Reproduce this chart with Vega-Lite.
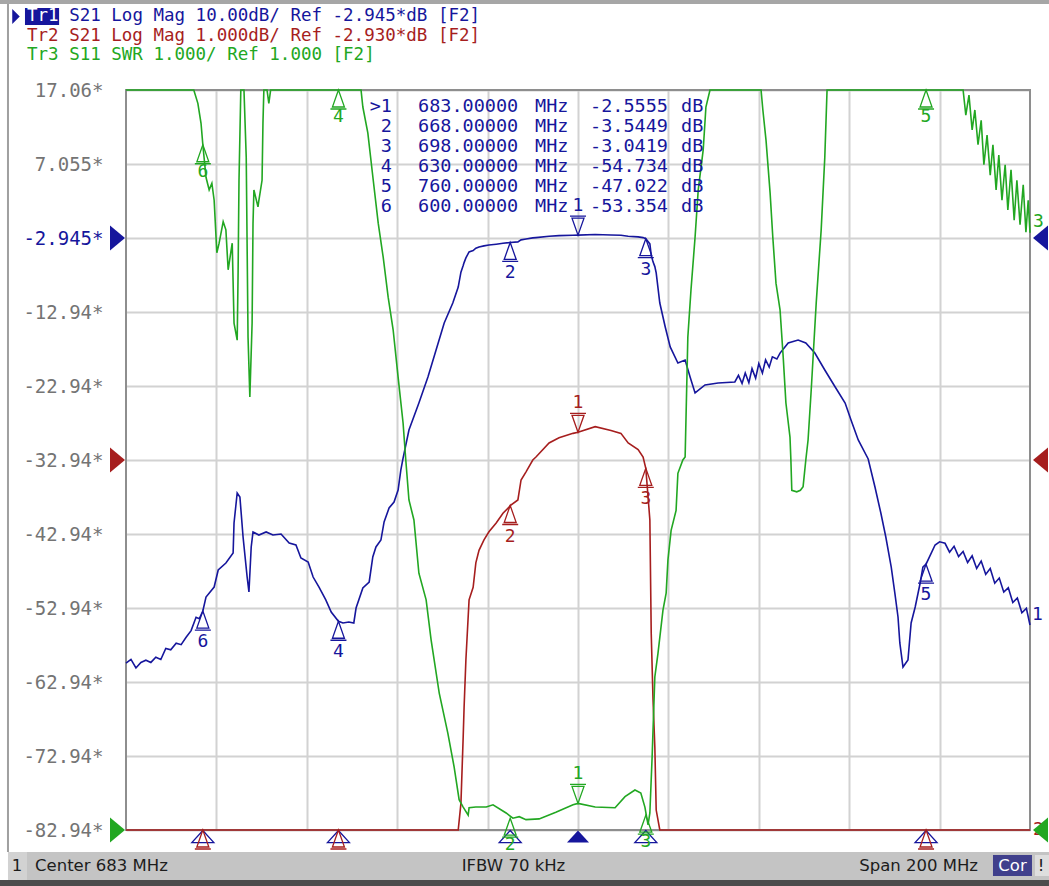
{
"$schema": "https://vega.github.io/schema/vega-lite/v6.json",
"width": 904, "height": 740,
"autosize": "none",
"padding": {"left": 126, "top": 90, "right": 19, "bottom": 56},
"background": "white",
"config": {"view": {"stroke": null}, "locale": {"number": {"decimal": ".", "thousands": ",", "grouping": [3], "currency": ["", ""], "minus": "-"}}},
"datasets": {
"s21": [
{"f":583.0,"db":-60.4},{"f":584.1,"db":-59.9},{"f":585.2,"db":-61.05},{"f":586.3,"db":-60.3},{"f":587.4,"db":-60.0},{"f":588.5,"db":-60.3},{"f":589.6,"db":-59.6},{"f":590.7,"db":-59.9},{"f":591.8,"db":-58.4},{"f":592.9,"db":-58.6},{"f":594.1,"db":-57.7},{"f":595.2,"db":-57.9},{"f":596.3,"db":-56.9},{"f":597.4,"db":-56.0},{"f":598.5,"db":-54.2},{"f":599.2,"db":-54.4},{"f":600.0,"db":-53.354},
{"f":600.7,"db":-51.46},{"f":602.5,"db":-50.11},{"f":603.4,"db":-47.81},{"f":605.1,"db":-46.86},{"f":606.7,"db":-45.51},{"f":606.9,"db":-41.46},{"f":607.6,"db":-37.40},{"f":608.2,"db":-37.94},{"f":608.9,"db":-43.35},{"f":609.8,"db":-48.76},{"f":610.2,"db":-50.78},{"f":610.7,"db":-44.70},{"f":611.1,"db":-42.67},{"f":612.4,"db":-43.08},{"f":614.0,"db":-42.67},{"f":615.5,"db":-43.08},{"f":617.3,"db":-42.95},{"f":619.1,"db":-44.16},{"f":620.6,"db":-44.43},{"f":621.7,"db":-46.19},{"f":623.3,"db":-46.73},{"f":624.4,"db":-48.76},{"f":625.7,"db":-50.11},{"f":627.2,"db":-51.86},{"f":628.4,"db":-53.49},{"f":630.0,"db":-54.734},{"f":631.0,"db":-54.97},{"f":632.3,"db":-54.84},{"f":633.4,"db":-54.97},{"f":633.9,"db":-52.95},{"f":635.4,"db":-50.24},{"f":636.8,"db":-49.43},{"f":637.6,"db":-46.05},{"f":638.3,"db":-44.70},{"f":639.4,"db":-43.76},{"f":640.1,"db":-41.32},{"f":641.2,"db":-39.43},{"f":642.3,"db":-38.62},{"f":643.2,"db":-37.00},{"f":643.8,"db":-34.30},{"f":644.3,"db":-32.68},{"f":645.6,"db":-28.89},{"f":647.8,"db":-25.24},{"f":649.8,"db":-21.73},{"f":651.6,"db":-18.08},{"f":653.4,"db":-14.43},{"f":655.3,"db":-11.73},{"f":656.5,"db":-9.57},
{"f":657.1,"db":-7.57},{"f":657.6,"db":-6.67},{"f":657.8,"db":-6.27},{"f":658.2,"db":-5.63},{"f":658.9,"db":-4.82},{"f":659.8,"db":-4.65},{"f":660.4,"db":-4.32},{"f":661.1,"db":-4.15},{"f":662.2,"db":-4.01},{"f":663.3,"db":-3.90},{"f":664.9,"db":-3.78},{"f":666.4,"db":-3.65},{"f":667.7,"db":-3.57},{"f":668.0,"db":-3.5449},{"f":669.7,"db":-3.47},{"f":670.4,"db":-3.20},{"f":671.5,"db":-3.09},{"f":673.0,"db":-2.93},{"f":673.7,"db":-2.89},{"f":676.6,"db":-2.70},{"f":678.8,"db":-2.63},{"f":681.9,"db":-2.57},{"f":683.0,"db":-2.5555},{"f":686.8,"db":-2.48},{"f":690.3,"db":-2.53},{"f":692.5,"db":-2.57},{"f":694.1,"db":-2.70},{"f":696.3,"db":-2.79},{"f":697.4,"db":-2.89},{"f":698.0,"db":-3.0419},{"f":698.9,"db":-3.74},{"f":699.2,"db":-5.27},{"f":699.6,"db":-6.17},{"f":700.0,"db":-6.81},{"f":700.3,"db":-7.66},
{"f":701.1,"db":-11.73},{"f":702.3,"db":-14.97},{"f":703.4,"db":-17.67},{"f":705.1,"db":-19.84},{"f":706.7,"db":-19.43},{"f":707.8,"db":-21.73},{"f":708.9,"db":-23.89},{"f":711.1,"db":-22.81},{"f":714.0,"db":-22.54},{"f":717.7,"db":-22.40},{"f":718.5,"db":-21.5},{"f":719.3,"db":-22.6},{"f":720.0,"db":-21.2},{"f":720.8,"db":-22.5},{"f":721.5,"db":-20.6},{"f":722.3,"db":-21.9},{"f":723.0,"db":-19.9},{"f":723.8,"db":-21.2},{"f":724.5,"db":-19.4},{"f":725.3,"db":-20.4},{"f":726.0,"db":-19.0},{"f":727.0,"db":-19.3},{"f":727.7,"db":-18.5},{"f":729.5,"db":-17.14},{"f":731.7,"db":-16.73},{"f":733.4,"db":-17.14},{"f":735.4,"db":-18.49},{"f":737.6,"db":-20.78},{"f":739.9,"db":-23.08},{"f":742.1,"db":-25.24},{"f":743.4,"db":-27.54},{"f":745.0,"db":-30.24},{"f":747.2,"db":-32.81},{"f":748.7,"db":-36.59},{"f":750.0,"db":-40.11},{"f":751.1,"db":-43.35},{"f":752.3,"db":-47.41},{"f":753.1,"db":-50.92},{"f":753.8,"db":-54.16},{"f":754.2,"db":-57.67},{"f":754.9,"db":-60.92},{"f":756.0,"db":-59.97},{"f":756.7,"db":-54.97},{"f":757.6,"db":-52.81},{"f":758.7,"db":-49.57},{"f":759.3,"db":-47.41},{"f":760.0,"db":-47.022},{"f":762.0,"db":-44.43},{"f":763.0,"db":-44.0},{"f":764.2,"db":-44.2},{"f":765.2,"db":-45.4},{"f":766.2,"db":-44.6},{"f":767.2,"db":-46.0},{"f":768.2,"db":-45.3},{"f":769.2,"db":-46.8},{"f":770.2,"db":-45.9},{"f":771.2,"db":-47.6},{"f":772.2,"db":-46.6},{"f":773.2,"db":-48.4},{"f":774.2,"db":-47.6},{"f":775.2,"db":-49.6},{"f":776.2,"db":-48.9},{"f":777.2,"db":-50.8},{"f":778.2,"db":-50.2},{"f":779.2,"db":-52.2},{"f":780.2,"db":-51.6},{"f":781.2,"db":-53.6},{"f":782.2,"db":-53.0},{"f":783.0,"db":-55.24}
],
"swr": [
{"f":583.0,"swr":11},{"f":598.0,"swr":11},{"f":598.9,"swr":10.82},{"f":599.6,"swr":10.55},{"f":600.0,"swr":10.26},{"f":600.7,"swr":9.82},{"f":601.4,"swr":9.65},{"f":602.0,"swr":9.74},{"f":602.5,"swr":9.51},{"f":603.1,"swr":8.80},{"f":603.6,"swr":8.93},{"f":604.5,"swr":9.22},{"f":605.1,"swr":9.11},{"f":605.6,"swr":8.57},{"f":606.5,"swr":8.93},{"f":606.9,"swr":7.85},{"f":607.6,"swr":7.62},{"f":607.8,"swr":8.53},{"f":608.0,"swr":9.78},{"f":608.4,"swr":11},{"f":609.1,"swr":11},{"f":609.6,"swr":10.09},{"f":610.0,"swr":7.66},{"f":610.4,"swr":6.85},{"f":610.9,"swr":7.85},{"f":611.1,"swr":9.20},{"f":611.3,"swr":9.65},{"f":612.2,"swr":9.42},{"f":612.4,"swr":9.51},{"f":613.1,"swr":9.78},{"f":613.3,"swr":10.55},{"f":613.5,"swr":11},{"f":614.2,"swr":11},{"f":614.6,"swr":10.82},{"f":615.0,"swr":11},{"f":635.0,"swr":11},{"f":635.4,"swr":10.77},{"f":636.5,"swr":10.42},{"f":637.7,"swr":9.78},{"f":638.8,"swr":9.20},{"f":639.9,"swr":8.74},{"f":641.0,"swr":8.20},{"f":642.1,"swr":7.76},{"f":643.2,"swr":7.12},{"f":644.3,"swr":6.50},{"f":644.9,"swr":6.00},{"f":645.6,"swr":5.46},{"f":646.7,"swr":5.19},{"f":647.8,"swr":4.47},{"f":649.4,"swr":4.11},{"f":650.5,"swr":3.57},{"f":652.3,"swr":2.85},{"f":654.2,"swr":2.31},{"f":655.6,"swr":1.85},{"f":656.7,"swr":1.41},{"f":657.6,"swr":1.31},{"f":658.7,"swr":1.20},{"f":658.9,"swr":1.30},{"f":660.4,"swr":1.31},{"f":662.7,"swr":1.31},{"f":664.2,"swr":1.34},{"f":667.1,"swr":1.23},{"f":668.6,"swr":1.16},{"f":670.0,"swr":1.18},{"f":671.5,"swr":1.14},{"f":674.4,"swr":1.15},{"f":678.1,"swr":1.24},{"f":681.9,"swr":1.34},{"f":683.0,"swr":1.36},{"f":686.8,"swr":1.31},{"f":691.2,"swr":1.30},{"f":693.4,"swr":1.45},{"f":695.6,"swr":1.54},{"f":696.9,"swr":1.50},{"f":697.8,"swr":1.31},{"f":698.5,"swr":1.07},{"f":698.9,"swr":1.23},{"f":699.4,"swr":1.99},{"f":700.0,"swr":3.07},{"f":700.7,"swr":3.39},{"f":701.8,"swr":3.97},{"f":702.5,"swr":4.20},{"f":702.9,"swr":4.65},{"f":703.6,"swr":5.05},{"f":704.7,"swr":5.32},{"f":705.1,"swr":5.82},{"f":706.2,"swr":6.00},{"f":706.7,"swr":6.04},{"f":707.3,"swr":7.66},{"f":708.0,"swr":8.30},{"f":708.9,"swr":9.01},{"f":709.6,"swr":9.65},{"f":710.7,"swr":10.19},{"f":711.3,"swr":10.77},{"f":712.2,"swr":11},{"f":723.5,"swr":11},{"f":723.9,"swr":10.73},{"f":724.6,"swr":10.32},{"f":725.5,"swr":9.61},{"f":726.1,"swr":9.01},{"f":726.8,"swr":8.39},{"f":727.7,"swr":8.03},{"f":728.4,"swr":7.39},{"f":729.0,"swr":6.77},{"f":729.9,"swr":6.31},{"f":730.1,"swr":6.00},{"f":730.3,"swr":5.59},{"f":731.4,"swr":5.57},{"f":732.2,"swr":5.59},{"f":732.8,"swr":5.64},{"f":733.4,"swr":6.00},{"f":733.9,"swr":6.27},{"f":734.6,"swr":6.95},{"f":735.7,"swr":8.12},{"f":736.8,"swr":9.11},{"f":737.6,"swr":10.09},{"f":738.1,"swr":11},{"f":767.7,"swr":11},{"f":768.2,"swr":11},{"f":768.8,"swr":10.66},{"f":769.5,"swr":10.93},{"f":770.2,"swr":10.46},{"f":770.8,"swr":10.73},{"f":771.5,"swr":10.26},{"f":772.2,"swr":10.59},{"f":772.8,"swr":9.99},{"f":773.5,"swr":10.39},{"f":774.2,"swr":9.85},{"f":774.8,"swr":10.26},{"f":775.5,"swr":9.65},{"f":776.1,"swr":10.12},{"f":776.8,"swr":9.51},{"f":777.5,"swr":9.99},{"f":778.1,"swr":9.38},{"f":778.8,"swr":9.92},{"f":779.5,"swr":9.24},{"f":780.1,"swr":9.78},{"f":780.8,"swr":9.18},{"f":781.5,"swr":9.72},{"f":782.1,"swr":9.08},{"f":782.6,"swr":9.51},{"f":783.0,"swr":9.07}
],
"mk": [{"m":1,"f":683,"db":-2.5555},{"m":2,"f":668,"db":-3.5449},{"m":3,"f":698,"db":-3.0419},{"m":4,"f":630,"db":-54.734},{"m":5,"f":760,"db":-47.022},{"m":6,"f":600,"db":-53.354}],
"mk3": [{"m":1,"f":683,"swr":1.36},{"m":2,"f":668,"swr":1.16},{"m":3,"f":698,"swr":1.2},{"m":4,"f":630,"swr":11},{"m":5,"f":760,"swr":11},{"m":6,"f":600,"swr":10.26}]
},
"resolve": {"scale": {"y": "independent"}, "axis": {"x": "independent"}},
"layer": [
{"data": {"name": "mk"}, "mark": {"type": "point", "opacity": 0},
 "encoding": {
  "x": {"field": "f", "type": "quantitative", "scale": {"domain": [583, 783], "nice": false, "zero": false}, "axis": {"values": [603, 623, 643, 663, 683, 703, 723, 743, 763], "grid": true, "gridColor": "#d2d2d2", "gridWidth": 2, "labels": false, "ticks": false, "domain": false, "title": null}},
  "y": {"field": "db", "type": "quantitative", "scale": {"domain": [-82.945, 17.055], "nice": false, "zero": false}, "axis": {"values": [17.055, 7.055, -2.945, -12.945, -22.945, -32.945, -42.945, -52.945, -62.945, -72.945, -82.945], "grid": true, "gridColor": "#d2d2d2", "gridWidth": 2, "ticks": false, "domain": false, "title": null, "labelPadding": 23, "labelFont": "DejaVu Sans Mono", "labelFontSize": 19, "labelColor": {"condition": {"test": "abs(datum.value + 2.945) < 0.01", "value": "#16169c"}, "value": "#747474"}, "labelExpr": "format(datum.value + 1e-9, '.4') + '*'", "labelOverlap": false, "labelFlush": false, "labelBaseline": "middle"}}}},
{
"layer": [
{"data": {"values": [{}]}, "mark": {"type": "rect", "filled": false, "color": "#8e8e8e", "strokeWidth": 2},
 "encoding": {"x": {"datum": 583, "type": "quantitative", "scale": {"domain": [583, 783]}, "axis": null}, "x2": {"datum": 783}, "y": {"datum": 17.055, "type": "quantitative", "scale": {"domain": [-82.945, 17.055]}, "axis": null}, "y2": {"datum": -82.945}}},
{"data": {"name": "s21"}, "mark": {"type": "line", "color": "#16169c", "strokeWidth": 1.6},
 "encoding": {"x": {"field": "f", "type": "quantitative", "scale": {"domain": [583, 783]}, "axis": null}, "y": {"field": "db", "type": "quantitative", "scale": {"domain": [-82.945, 17.055]}, "axis": null}}},
{"data": {"name": "mk"}, "transform": [{"filter": "datum.m != 1"}], "mark": {"type": "point", "shape": "M0,-1L0.6,0.7L-0.6,0.7Z M-0.8,0.9L0.8,0.9", "size": 400, "filled": false, "color": "#16169c", "strokeWidth": 1.3, "opacity": 1, "yOffset": 10},
 "encoding": {"x": {"field": "f", "type": "quantitative", "scale": {"domain": [583, 783]}, "axis": null}, "y": {"field": "db", "type": "quantitative", "scale": {"domain": [-82.945, 17.055]}, "axis": null}}},
{"data": {"name": "mk"}, "transform": [{"filter": "datum.m == 1"}], "mark": {"type": "point", "shape": "M0,1L0.6,-0.7L-0.6,-0.7Z M-0.8,-0.9L0.8,-0.9", "size": 400, "filled": false, "color": "#16169c", "strokeWidth": 1.3, "opacity": 1, "yOffset": -10},
 "encoding": {"x": {"field": "f", "type": "quantitative", "scale": {"domain": [583, 783]}, "axis": null}, "y": {"field": "db", "type": "quantitative", "scale": {"domain": [-82.945, 17.055]}, "axis": null}}},
{"data": {"name": "mk"}, "transform": [{"filter": "datum.m != 1"}], "mark": {"type": "text", "font": "DejaVu Sans Mono", "fontSize": 18, "color": "#16169c", "align": "center", "baseline": "middle", "dy": 31},
 "encoding": {"x": {"field": "f", "type": "quantitative", "scale": {"domain": [583, 783]}, "axis": null}, "y": {"field": "db", "type": "quantitative", "scale": {"domain": [-82.945, 17.055]}, "axis": null}, "text": {"field": "m", "type": "nominal"}}},
{"data": {"name": "mk"}, "transform": [{"filter": "datum.m == 1"}], "mark": {"type": "text", "font": "DejaVu Sans Mono", "fontSize": 18, "color": "#16169c", "align": "center", "baseline": "middle", "dy": -29},
 "encoding": {"x": {"field": "f", "type": "quantitative", "scale": {"domain": [583, 783]}, "axis": null}, "y": {"field": "db", "type": "quantitative", "scale": {"domain": [-82.945, 17.055]}, "axis": null}, "text": {"field": "m", "type": "nominal"}}},
{"data": {"name": "mk"}, "transform": [{"filter": "datum.m != 1"}], "mark": {"type": "point", "shape": "M0,-0.55L1,0.55L-1,0.55Z", "size": 484, "filled": false, "color": "#16169c", "strokeWidth": 1.3, "opacity": 1, "yOffset": 6.5},
 "encoding": {"x": {"field": "f", "type": "quantitative", "scale": {"domain": [583, 783]}, "axis": null}, "y": {"datum": -82.945, "type": "quantitative", "scale": {"domain": [-82.945, 17.055]}, "axis": null}}},
{"data": {"name": "mk"}, "transform": [{"filter": "datum.m == 1"}], "mark": {"type": "point", "shape": "M0,-0.55L1,0.55L-1,0.55Z", "size": 484, "filled": true, "color": "#16169c", "opacity": 1, "yOffset": 6.5},
 "encoding": {"x": {"field": "f", "type": "quantitative", "scale": {"domain": [583, 783]}, "axis": null}, "y": {"datum": -82.945, "type": "quantitative", "scale": {"domain": [-82.945, 17.055]}, "axis": null}}},
{"data": {"values": [{}]}, "mark": {"type": "point", "shape": "M-0.6,-1L0.6,0L-0.6,1Z", "size": 625, "filled": true, "color": "#16169c", "opacity": 1, "xOffset": -8.5},
 "encoding": {"x": {"datum": 583, "type": "quantitative", "scale": {"domain": [583, 783]}, "axis": null}, "y": {"datum": -2.945, "type": "quantitative", "scale": {"domain": [-82.945, 17.055]}, "axis": null}}},
{"data": {"values": [{}]}, "mark": {"type": "point", "shape": "M0.6,-1L-0.6,0L0.6,1Z", "size": 625, "filled": true, "color": "#16169c", "opacity": 1, "xOffset": 10.5},
 "encoding": {"x": {"datum": 783, "type": "quantitative", "scale": {"domain": [583, 783]}, "axis": null}, "y": {"datum": -2.945, "type": "quantitative", "scale": {"domain": [-82.945, 17.055]}, "axis": null}}},
{"data": {"values": [{}]}, "mark": {"type": "text", "font": "DejaVu Sans Mono", "fontSize": 18, "color": "#16169c", "align": "left", "baseline": "middle", "dx": 2, "dy": -10},
 "encoding": {"x": {"datum": 783, "type": "quantitative", "scale": {"domain": [583, 783]}, "axis": null}, "y": {"datum": -55.24, "type": "quantitative", "scale": {"domain": [-82.945, 17.055]}, "axis": null}, "text": {"value": "1"}}},
{"data": {"values": [{}]}, "mark": {"type": "point", "shape": "M-0.5,-1L0.5,0L-0.5,1Z", "size": 225, "filled": true, "color": "#16169c", "opacity": 1},
 "encoding": {"x": {"datum": 558.66, "type": "quantitative", "scale": {"domain": [583, 783]}, "axis": null}, "y": {"datum": 26.99, "type": "quantitative", "scale": {"domain": [-82.945, 17.055]}, "axis": null}}},
{"data": {"values": [{}]}, "mark": {"type": "rect", "color": "#16169c", "opacity": 1},
 "encoding": {"x": {"datum": 560.65, "type": "quantitative", "scale": {"domain": [583, 783]}, "axis": null}, "x2": {"datum": 568.2}, "y": {"datum": 28.14, "type": "quantitative", "scale": {"domain": [-82.945, 17.055]}, "axis": null}, "y2": {"datum": 25.84}}},
{"data": {"values": [{}]}, "mark": {"type": "text", "font": "DejaVu Sans Mono", "fontSize": 17.5, "color": "white", "align": "left", "baseline": "middle"},
 "encoding": {"x": {"datum": 561.1, "type": "quantitative", "scale": {"domain": [583, 783]}, "axis": null}, "y": {"datum": 26.99, "type": "quantitative", "scale": {"domain": [-82.945, 17.055]}, "axis": null}, "text": {"value": "Tr1"}}},
{"data": {"values": [{}]}, "mark": {"type": "text", "font": "DejaVu Sans Mono", "fontSize": 17.5, "color": "#16169c", "align": "left", "baseline": "middle"},
 "encoding": {"x": {"datum": 570.43, "type": "quantitative", "scale": {"domain": [583, 783]}, "axis": null}, "y": {"datum": 26.99, "type": "quantitative", "scale": {"domain": [-82.945, 17.055]}, "axis": null}, "text": {"value": "S21 Log Mag 10.00dB/ Ref -2.945*dB [F2]"}}},
{"data": {"values": [{}]}, "mark": {"type": "text", "font": "DejaVu Sans Mono", "fontSize": 17.5, "color": "#a61e1e", "align": "left", "baseline": "middle"},
 "encoding": {"x": {"datum": 561.1, "type": "quantitative", "scale": {"domain": [583, 783]}, "axis": null}, "y": {"datum": 24.35, "type": "quantitative", "scale": {"domain": [-82.945, 17.055]}, "axis": null}, "text": {"value": "Tr2 S21 Log Mag 1.000dB/ Ref -2.930*dB [F2]"}}},
{"data": {"values": [{}]}, "mark": {"type": "text", "font": "DejaVu Sans Mono", "fontSize": 17.5, "color": "#22a722", "align": "left", "baseline": "middle"},
 "encoding": {"x": {"datum": 561.1, "type": "quantitative", "scale": {"domain": [583, 783]}, "axis": null}, "y": {"datum": 21.72, "type": "quantitative", "scale": {"domain": [-82.945, 17.055]}, "axis": null}, "text": {"value": "Tr3 S11 SWR 1.000/ Ref 1.000 [F2]"}}}
]
},
{
"layer": [
{"data": {"name": "s21"}, "mark": {"type": "line", "color": "#a61e1e", "strokeWidth": 1.6},
 "encoding": {"x": {"field": "f", "type": "quantitative", "scale": {"domain": [583, 783]}, "axis": null}, "y": {"field": "db", "type": "quantitative", "scale": {"domain": [-7.93, 2.07], "clamp": true, "nice": false, "zero": false}, "axis": null}}},
{"data": {"name": "mk"}, "transform": [{"filter": "datum.m != 1"}], "mark": {"type": "point", "shape": "M0,-1L0.6,0.7L-0.6,0.7Z M-0.8,0.9L0.8,0.9", "size": 400, "filled": false, "color": "#a61e1e", "strokeWidth": 1.3, "opacity": 1, "yOffset": 10},
 "encoding": {"x": {"field": "f", "type": "quantitative", "scale": {"domain": [583, 783]}, "axis": null}, "y": {"field": "db", "type": "quantitative", "scale": {"domain": [-7.93, 2.07], "clamp": true}, "axis": null}}},
{"data": {"name": "mk"}, "transform": [{"filter": "datum.m == 1"}], "mark": {"type": "point", "shape": "M0,1L0.6,-0.7L-0.6,-0.7Z M-0.8,-0.9L0.8,-0.9", "size": 400, "filled": false, "color": "#a61e1e", "strokeWidth": 1.3, "opacity": 1, "yOffset": -10},
 "encoding": {"x": {"field": "f", "type": "quantitative", "scale": {"domain": [583, 783]}, "axis": null}, "y": {"field": "db", "type": "quantitative", "scale": {"domain": [-7.93, 2.07], "clamp": true}, "axis": null}}},
{"data": {"name": "mk"}, "transform": [{"filter": "datum.m == 2 || datum.m == 3"}], "mark": {"type": "text", "font": "DejaVu Sans Mono", "fontSize": 18, "color": "#a61e1e", "align": "center", "baseline": "middle", "dy": 31},
 "encoding": {"x": {"field": "f", "type": "quantitative", "scale": {"domain": [583, 783]}, "axis": null}, "y": {"field": "db", "type": "quantitative", "scale": {"domain": [-7.93, 2.07], "clamp": true}, "axis": null}, "text": {"field": "m", "type": "nominal"}}},
{"data": {"name": "mk"}, "transform": [{"filter": "datum.m == 1"}], "mark": {"type": "text", "font": "DejaVu Sans Mono", "fontSize": 18, "color": "#a61e1e", "align": "center", "baseline": "middle", "dy": -29},
 "encoding": {"x": {"field": "f", "type": "quantitative", "scale": {"domain": [583, 783]}, "axis": null}, "y": {"field": "db", "type": "quantitative", "scale": {"domain": [-7.93, 2.07], "clamp": true}, "axis": null}, "text": {"field": "m", "type": "nominal"}}},
{"data": {"values": [{}]}, "mark": {"type": "point", "shape": "M-0.6,-1L0.6,0L-0.6,1Z", "size": 625, "filled": true, "color": "#a61e1e", "opacity": 1, "xOffset": -8.5},
 "encoding": {"x": {"datum": 583, "type": "quantitative", "scale": {"domain": [583, 783]}, "axis": null}, "y": {"datum": -2.93, "type": "quantitative", "scale": {"domain": [-7.93, 2.07], "clamp": true}, "axis": null}}},
{"data": {"values": [{}]}, "mark": {"type": "point", "shape": "M0.6,-1L-0.6,0L0.6,1Z", "size": 625, "filled": true, "color": "#a61e1e", "opacity": 1, "xOffset": 10.5},
 "encoding": {"x": {"datum": 783, "type": "quantitative", "scale": {"domain": [583, 783]}, "axis": null}, "y": {"datum": -2.93, "type": "quantitative", "scale": {"domain": [-7.93, 2.07], "clamp": true}, "axis": null}}},
{"data": {"values": [{}]}, "mark": {"type": "text", "font": "DejaVu Sans Mono", "fontSize": 18, "color": "#a61e1e", "align": "left", "baseline": "middle", "dx": 3, "dy": 0},
 "encoding": {"x": {"datum": 783, "type": "quantitative", "scale": {"domain": [583, 783]}, "axis": null}, "y": {"datum": -7.93, "type": "quantitative", "scale": {"domain": [-7.93, 2.07], "clamp": true}, "axis": null}, "text": {"value": "2"}}}
]
},
{
"layer": [
{"data": {"name": "swr"}, "mark": {"type": "line", "color": "#22a722", "strokeWidth": 1.6},
 "encoding": {"x": {"field": "f", "type": "quantitative", "scale": {"domain": [583, 783]}, "axis": null}, "y": {"field": "swr", "type": "quantitative", "scale": {"domain": [1, 11], "clamp": true, "nice": false, "zero": false}, "axis": null}}},
{"data": {"name": "mk3"}, "transform": [{"filter": "datum.m != 1"}], "mark": {"type": "point", "shape": "M0,-1L0.6,0.7L-0.6,0.7Z M-0.8,0.9L0.8,0.9", "size": 400, "filled": false, "color": "#22a722", "strokeWidth": 1.3, "opacity": 1, "yOffset": 10},
 "encoding": {"x": {"field": "f", "type": "quantitative", "scale": {"domain": [583, 783]}, "axis": null}, "y": {"field": "swr", "type": "quantitative", "scale": {"domain": [1, 11], "clamp": true}, "axis": null}}},
{"data": {"name": "mk3"}, "transform": [{"filter": "datum.m == 1"}], "mark": {"type": "point", "shape": "M0,1L0.6,-0.7L-0.6,-0.7Z M-0.8,-0.9L0.8,-0.9", "size": 400, "filled": false, "color": "#22a722", "strokeWidth": 1.3, "opacity": 1, "yOffset": -10},
 "encoding": {"x": {"field": "f", "type": "quantitative", "scale": {"domain": [583, 783]}, "axis": null}, "y": {"field": "swr", "type": "quantitative", "scale": {"domain": [1, 11], "clamp": true}, "axis": null}}},
{"data": {"name": "mk3"}, "transform": [{"filter": "datum.m != 1"}], "mark": {"type": "text", "font": "DejaVu Sans Mono", "fontSize": 18, "color": "#22a722", "align": "center", "baseline": "middle", "dy": 27},
 "encoding": {"x": {"field": "f", "type": "quantitative", "scale": {"domain": [583, 783]}, "axis": null}, "y": {"field": "swr", "type": "quantitative", "scale": {"domain": [1, 11], "clamp": true}, "axis": null}, "text": {"field": "m", "type": "nominal"}}},
{"data": {"name": "mk3"}, "transform": [{"filter": "datum.m == 1"}], "mark": {"type": "text", "font": "DejaVu Sans Mono", "fontSize": 18, "color": "#22a722", "align": "center", "baseline": "middle", "dy": -29},
 "encoding": {"x": {"field": "f", "type": "quantitative", "scale": {"domain": [583, 783]}, "axis": null}, "y": {"field": "swr", "type": "quantitative", "scale": {"domain": [1, 11], "clamp": true}, "axis": null}, "text": {"field": "m", "type": "nominal"}}},
{"data": {"values": [{}]}, "mark": {"type": "point", "shape": "M-0.6,-1L0.6,0L-0.6,1Z", "size": 625, "filled": true, "color": "#22a722", "opacity": 1, "xOffset": -8.5},
 "encoding": {"x": {"datum": 583, "type": "quantitative", "scale": {"domain": [583, 783]}, "axis": null}, "y": {"datum": 1, "type": "quantitative", "scale": {"domain": [1, 11], "clamp": true}, "axis": null}}},
{"data": {"values": [{}]}, "mark": {"type": "point", "shape": "M0.6,-1L-0.6,0L0.6,1Z", "size": 625, "filled": true, "color": "#22a722", "opacity": 1, "xOffset": 10.5},
 "encoding": {"x": {"datum": 783, "type": "quantitative", "scale": {"domain": [583, 783]}, "axis": null}, "y": {"datum": 1, "type": "quantitative", "scale": {"domain": [1, 11], "clamp": true}, "axis": null}}},
{"data": {"values": [{}]}, "mark": {"type": "text", "font": "DejaVu Sans Mono", "fontSize": 18, "color": "#22a722", "align": "left", "baseline": "middle", "dx": 3, "dy": -11},
 "encoding": {"x": {"datum": 783, "type": "quantitative", "scale": {"domain": [583, 783]}, "axis": null}, "y": {"datum": 9.07, "type": "quantitative", "scale": {"domain": [1, 11], "clamp": true}, "axis": null}, "text": {"value": "3"}}}
]
},
{
"layer": [
{"data": {"name": "mk"}, "mark": {"type": "text", "font": "DejaVu Sans Mono", "fontSize": 18.5, "color": "#16169c", "align": "right", "baseline": "middle"},
 "encoding": {"x": {"datum": 641.85, "type": "quantitative", "scale": {"domain": [583, 783]}, "axis": null}, "y": {"field": "m", "type": "quantitative", "scale": {"domain": [1, 6], "range": [15.5, 115.5]}, "axis": null}, "text": {"condition": {"test": "datum.m == 1", "value": ">1"}, "field": "m", "type": "nominal"}}},
{"data": {"name": "mk"}, "mark": {"type": "text", "font": "DejaVu Sans Mono", "fontSize": 18.5, "color": "#16169c", "align": "left", "baseline": "middle"},
 "encoding": {"x": {"datum": 647.6, "type": "quantitative", "scale": {"domain": [583, 783]}, "axis": null}, "y": {"field": "m", "type": "quantitative", "scale": {"domain": [1, 6], "range": [15.5, 115.5]}, "axis": null}, "text": {"field": "f", "type": "quantitative", "format": ".5f"}}},
{"data": {"name": "mk"}, "mark": {"type": "text", "font": "DejaVu Sans Mono", "fontSize": 18.5, "color": "#16169c", "align": "left", "baseline": "middle"},
 "encoding": {"x": {"datum": 673.49, "type": "quantitative", "scale": {"domain": [583, 783]}, "axis": null}, "y": {"field": "m", "type": "quantitative", "scale": {"domain": [1, 6], "range": [15.5, 115.5]}, "axis": null}, "text": {"value": "MHz"}}},
{"data": {"name": "mk"}, "mark": {"type": "text", "font": "DejaVu Sans Mono", "fontSize": 18.5, "color": "#16169c", "align": "right", "baseline": "middle"},
 "encoding": {"x": {"datum": 702.91, "type": "quantitative", "scale": {"domain": [583, 783]}, "axis": null}, "y": {"field": "m", "type": "quantitative", "scale": {"domain": [1, 6], "range": [15.5, 115.5]}, "axis": null}, "text": {"field": "db", "type": "quantitative", "format": ".5"}}},
{"data": {"name": "mk"}, "mark": {"type": "text", "font": "DejaVu Sans Mono", "fontSize": 18.5, "color": "#16169c", "align": "left", "baseline": "middle"},
 "encoding": {"x": {"datum": 705.79, "type": "quantitative", "scale": {"domain": [583, 783]}, "axis": null}, "y": {"field": "m", "type": "quantitative", "scale": {"domain": [1, 6], "range": [15.5, 115.5]}, "axis": null}, "text": {"value": "dB"}}}
]
},
{
"layer": [
{"data": {"values": [{}]}, "mark": {"type": "rect", "color": "#a6a6a6", "opacity": 1},
 "encoding": {"x": {"datum": 555.12, "type": "quantitative", "scale": {"domain": [583, 783]}, "axis": null}, "x2": {"datum": 787.2}, "y": {"datum": 29.22, "type": "quantitative", "scale": {"domain": [-82.945, 17.055]}, "axis": null}, "y2": {"datum": 28.68}}},
{"data": {"values": [{}]}, "mark": {"type": "rule", "color": "#a0a0a0", "strokeWidth": 2},
 "encoding": {"x": {"datum": 556.89, "type": "quantitative", "scale": {"domain": [583, 783]}, "axis": null}, "y": {"datum": 28.68, "type": "quantitative", "scale": {"domain": [-82.945, 17.055]}, "axis": null}, "y2": {"datum": -85.92}}},
{"data": {"values": [{}]}, "mark": {"type": "rect", "color": "#c4c4c4", "opacity": 1},
 "encoding": {"x": {"datum": 556.89, "type": "quantitative", "scale": {"domain": [583, 783]}, "axis": null}, "x2": {"datum": 787.2}, "y": {"datum": -85.92, "type": "quantitative", "scale": {"domain": [-82.945, 17.055]}, "axis": null}, "y2": {"datum": -89.7}}},
{"data": {"values": [{}]}, "mark": {"type": "rect", "color": "#d2d2d2", "opacity": 1},
 "encoding": {"x": {"datum": 556.89, "type": "quantitative", "scale": {"domain": [583, 783]}, "axis": null}, "x2": {"datum": 561.1}, "y": {"datum": -85.92, "type": "quantitative", "scale": {"domain": [-82.945, 17.055]}, "axis": null}, "y2": {"datum": -89.7}}},
{"data": {"values": [{}]}, "mark": {"type": "rect", "color": "#4c4c4c", "opacity": 1},
 "encoding": {"x": {"datum": 555.12, "type": "quantitative", "scale": {"domain": [583, 783]}, "axis": null}, "x2": {"datum": 787.2}, "y": {"datum": -89.7, "type": "quantitative", "scale": {"domain": [-82.945, 17.055]}, "axis": null}, "y2": {"datum": -90.6}}},
{"data": {"values": [{}]}, "mark": {"type": "rect", "color": "#40408c", "opacity": 1},
 "encoding": {"x": {"datum": 774.81, "type": "quantitative", "scale": {"domain": [583, 783]}, "axis": null}, "x2": {"datum": 783.44}, "y": {"datum": -86.32, "type": "quantitative", "scale": {"domain": [-82.945, 17.055]}, "axis": null}, "y2": {"datum": -89.16}}},
{"data": {"values": [{}]}, "mark": {"type": "rect", "color": "#dedede", "opacity": 1},
 "encoding": {"x": {"datum": 784.1, "type": "quantitative", "scale": {"domain": [583, 783]}, "axis": null}, "x2": {"datum": 787.2}, "y": {"datum": -86.32, "type": "quantitative", "scale": {"domain": [-82.945, 17.055]}, "axis": null}, "y2": {"datum": -89.16}}},
{"data": {"values": [{}]}, "mark": {"type": "text", "font": "DejaVu Sans", "fontSize": 16.5, "color": "#1c1c1c", "align": "center", "baseline": "middle"},
 "encoding": {"x": {"datum": 558.88, "type": "quantitative", "scale": {"domain": [583, 783]}, "axis": null}, "y": {"datum": -87.81, "type": "quantitative", "scale": {"domain": [-82.945, 17.055]}, "axis": null}, "text": {"value": "1"}}},
{"data": {"values": [{}]}, "mark": {"type": "text", "font": "DejaVu Sans", "fontSize": 16.5, "color": "#1c1c1c", "align": "left", "baseline": "middle"},
 "encoding": {"x": {"datum": 562.87, "type": "quantitative", "scale": {"domain": [583, 783]}, "axis": null}, "y": {"datum": -87.81, "type": "quantitative", "scale": {"domain": [-82.945, 17.055]}, "axis": null}, "text": {"value": "Center 683 MHz"}}},
{"data": {"values": [{}]}, "mark": {"type": "text", "font": "DejaVu Sans", "fontSize": 16.5, "color": "#1c1c1c", "align": "center", "baseline": "middle"},
 "encoding": {"x": {"datum": 668.73, "type": "quantitative", "scale": {"domain": [583, 783]}, "axis": null}, "y": {"datum": -87.81, "type": "quantitative", "scale": {"domain": [-82.945, 17.055]}, "axis": null}, "text": {"value": "IFBW 70 kHz"}}},
{"data": {"values": [{}]}, "mark": {"type": "text", "font": "DejaVu Sans", "fontSize": 16.5, "color": "#1c1c1c", "align": "right", "baseline": "middle"},
 "encoding": {"x": {"datum": 771.5, "type": "quantitative", "scale": {"domain": [583, 783]}, "axis": null}, "y": {"datum": -87.81, "type": "quantitative", "scale": {"domain": [-82.945, 17.055]}, "axis": null}, "text": {"value": "Span 200 MHz"}}},
{"data": {"values": [{}]}, "mark": {"type": "text", "font": "DejaVu Sans", "fontSize": 16.5, "color": "white", "align": "center", "baseline": "middle"},
 "encoding": {"x": {"datum": 779.12, "type": "quantitative", "scale": {"domain": [583, 783]}, "axis": null}, "y": {"datum": -87.81, "type": "quantitative", "scale": {"domain": [-82.945, 17.055]}, "axis": null}, "text": {"value": "Cor"}}},
{"data": {"values": [{}]}, "mark": {"type": "text", "font": "DejaVu Sans", "fontSize": 16.5, "color": "#1c1c1c", "align": "center", "baseline": "middle"},
 "encoding": {"x": {"datum": 785.43, "type": "quantitative", "scale": {"domain": [583, 783]}, "axis": null}, "y": {"datum": -87.81, "type": "quantitative", "scale": {"domain": [-82.945, 17.055]}, "axis": null}, "text": {"value": "!"}}}
]
}
]
}
